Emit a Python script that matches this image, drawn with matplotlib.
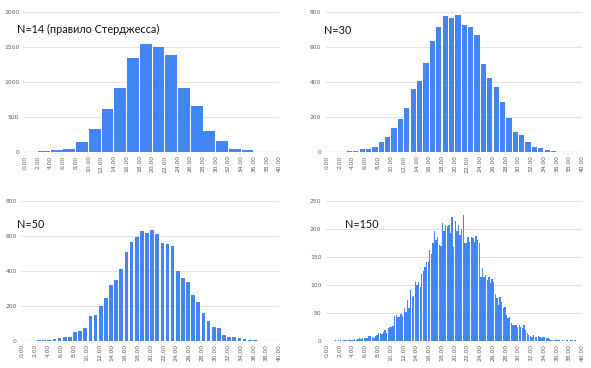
import numpy as np
import matplotlib as mpl; mpl.use("Agg")
import matplotlib.pyplot as plt

# Data
# ------------------------------------------------------------------------------
titles = ["N=14 (правило Стерджесса)", "N=30", "N=50", "N=150"]

# N=14: buckets of 2.0, starting at 0
n14_width = 2.0
n14_start = 1.0
n14_counts = [0, 10, 25, 50, 145, 325, 610, 920, 1345, 1550,
              1510, 1385, 920, 660, 305, 155, 50, 25, 3, 0]

# N=30: buckets of 1.0, starting at 0
n30_width = 1.0
n30_start = 0.5
n30_counts = [0, 0, 0, 6, 6, 17, 19, 29, 57, 86,
              135, 189, 250, 359, 406, 508, 636, 714, 781, 769,
              785, 727, 714, 672, 502, 422, 374, 284, 193, 113,
              97, 55, 29, 23, 13, 6, 1, 0, 0, 0]

# N=50: buckets of 0.8
n50_width = 0.8
n50_start = 2.6
n50_counts = [2, 3, 3, 10, 14, 20, 22, 48, 55, 75,
              140, 148, 198, 245, 320, 345, 412, 505, 565, 590,
              625, 618, 630, 612, 558, 553, 540, 400, 360, 335,
              262, 222, 158, 110, 80, 75, 35, 22, 20, 14,
              10, 6, 2, 1]

# N=150: buckets of 0.25
n150_width = 0.25
n150_start = 1.125
n150_counts = [0, 1, 0, 1,  1, 0, 1, 1,  1, 2, 1, 2,  2, 3, 2, 3,
               4, 3, 4, 5,  4, 5, 8, 9,  6, 4, 9, 10,  13, 14, 12, 16,
               20, 14, 22, 25,  25, 26, 45, 46,  43, 42, 48, 45,
               58, 52, 72, 58,  90, 78, 80, 105,  100, 105, 96, 120,
               125, 132, 140, 140,  162, 155, 175, 196,  180, 185, 171, 169,
               211, 195, 207, 205,  207, 192, 221, 168,  213, 195, 207, 189,
               200, 224, 174, 174,  186, 176, 186, 183,  177, 187, 180, 174,
               114, 129, 114, 117,  108, 114, 103, 111,  105, 84, 76, 64,
               78, 69, 58, 61,  46, 40, 43, 31,  28, 28, 28, 25,
               28, 24, 22, 28,  19, 13, 10, 9,  7, 10, 7, 6,
               8, 7, 4, 7,  6, 4, 4, 3,  2, 2, 2, 2,
               1, 1, 0, 1,  0, 0, 1, 0,  1, 1, 0, 1]

y_tops = [2000, 800, 800, 250]
y_steps = [500, 200, 200, 50]
x_ticks = list(range(0, 41, 2))
x_labels = [f"{t:.2f}" for t in x_ticks]

BLUE = "#4285f4"
W, H = 591, 368

fig = plt.figure(figsize=(W / 100, H / 100), dpi=100)

def axes_px(left, top, right, bottom):
    return fig.add_axes([left / W, 1 - bottom / H, (right - left) / W, (bottom - top) / H])

# pixel boxes: left, top, right, bottom (bottom = value 0)
boxes = [(23.3, 12.3, 279.3, 152.0),
         (325.5, 12.3, 582.3, 152.0),
         (21.0, 200.7, 279.3, 340.7),
         (325.5, 200.7, 582.3, 340.7)]
title_pos = [(17, 29.5), (324, 30), (17, 224), (345, 224)]

series = [(n14_start, n14_width, n14_counts, 0.93),
          (n30_start, n30_width, n30_counts, 0.82),
          (n50_start, n50_width, n50_counts, 0.72),
          (n150_start, n150_width, n150_counts, 0.85)]

for i in range(4):
    l, t, r, b = boxes[i]
    ax = axes_px(l, t, r, b)
    start, width, counts, frac = series[i]
    centers = start + width * np.arange(len(counts))
    ax.bar(centers, counts, width=width * frac, color=BLUE, linewidth=0, zorder=3)

    ax.set_xlim(-0.25 if i in (0, 1) else -0.2, 40)
    ax.set_ylim(0, y_tops[i])
    ax.set_yticks(np.arange(0, y_tops[i] + 1, y_steps[i]))
    ax.yaxis.grid(True, color="#e3e3e3", linewidth=0.8, zorder=0)
    ax.set_axisbelow(True)
    ax.axhline(0, color="#9a9a9a", linewidth=0.8, zorder=4)
    for s in ax.spines.values():
        s.set_visible(False)
    ax.set_xticks(x_ticks)
    ax.set_xticklabels(x_labels, rotation=90, fontsize=4.3, color="#5f5f5f")
    ax.tick_params(axis="x", length=0, pad=2.5)
    ax.tick_params(axis="y", length=0, pad=3, labelsize=4.3, labelcolor="#5f5f5f")
    ax.patch.set_alpha(0)

    tx, ty = title_pos[i]
    fig.text(tx / W, 1 - ty / H, titles[i], fontsize=7.8, family=["Lato", "DejaVu Sans"],
             color="#111111", ha="left", va="center")

fig.savefig("out.png", dpi=100)
